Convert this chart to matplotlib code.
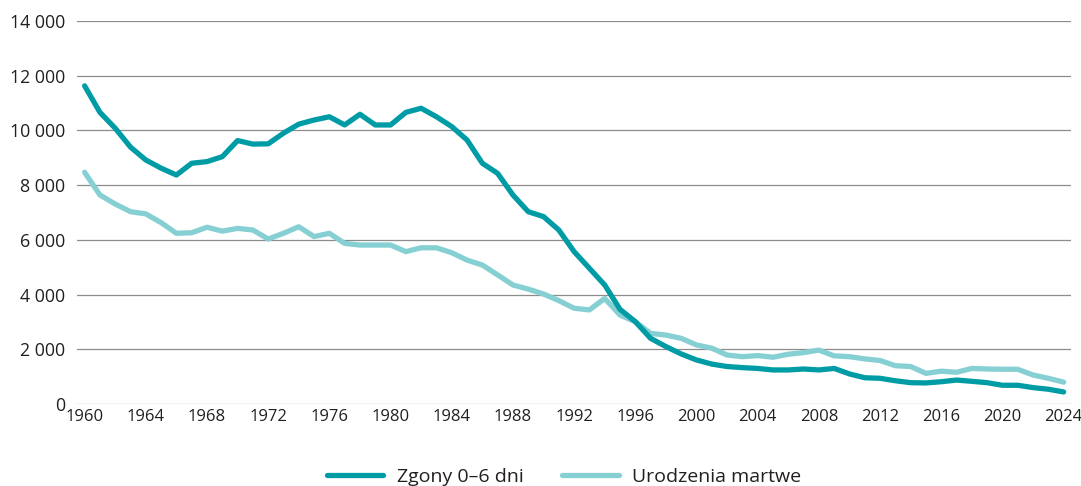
import matplotlib
matplotlib.use("Agg")
import matplotlib.pyplot as plt
from matplotlib.ticker import FuncFormatter

# lata 1960-2024
years = list(range(1960, 2025))

# Zgony 0-6 dni
zgony = [11630, 10660, 10080, 9390, 8920, 8620, 8370, 8800, 8860, 9040,
         9630, 9500, 9510, 9900, 10230, 10380, 10500, 10200, 10590, 10200,
         10200, 10660, 10810, 10500, 10140, 9650, 8800, 8430, 7640, 7030,
         6850, 6360, 5570, 4960, 4350, 3460, 3010, 2400, 2100, 1830,
         1610, 1460, 1370, 1330, 1300, 1245, 1245, 1280, 1245, 1300,
         1100, 960, 940, 850, 780, 770, 815, 875, 830, 780,
         685, 685, 600, 540, 440]

# Urodzenia martwe
martwe = [8470, 7640, 7310, 7030, 6950, 6630, 6240, 6260, 6460, 6320,
          6420, 6360, 6030, 6240, 6480, 6120, 6240, 5870, 5810, 5810,
          5810, 5570, 5710, 5710, 5530, 5260, 5080, 4720, 4350, 4200,
          4020, 3780, 3500, 3440, 3860, 3250, 3010, 2580, 2520, 2400,
          2160, 2040, 1790, 1730, 1770, 1710, 1820, 1880, 1970, 1760,
          1730, 1650, 1590, 1400, 1370, 1120, 1200, 1160, 1300, 1280,
          1270, 1270, 1060, 940, 800]

dark = "#009ca5"
light = "#86d0d4"
grid_col = "#8c8c8c"
txt_col = "#231f20"

plt.rcParams["font.family"] = ["Open Sans", "DejaVu Sans"]

fig = plt.figure(figsize=(10.81, 4.86), dpi=100)
ax = fig.add_axes([0.0712, 0.1687, 0.9198, 0.7881])

ax.plot(years, zgony, color=dark, lw=3.8, solid_joinstyle="round",
        solid_capstyle="round", label="Zgony 0–6 dni", zorder=3)
ax.plot(years, martwe, color=light, lw=3.8, solid_joinstyle="round",
        solid_capstyle="round", label="Urodzenia martwe", zorder=2)

ax.set_xlim(1959.5, 2024.5)
ax.set_ylim(0, 14000)
ax.set_xticks(range(1960, 2025, 4))
ax.set_yticks(range(0, 14001, 2000))
ax.yaxis.set_major_formatter(FuncFormatter(lambda v, p: f"{int(v):,}".replace(",", " ")))

ax.grid(axis="y", color=grid_col, lw=0.9)
ax.set_axisbelow(True)
for s in ax.spines.values():
    s.set_visible(False)
ax.tick_params(axis="both", length=0, colors=txt_col)
ax.tick_params(axis="y", pad=8.5, labelsize=12.8)
ax.tick_params(axis="x", pad=3.5, labelsize=12.0)

leg = fig.legend(loc="center", bbox_to_anchor=(564 / 1081, 1 - 477 / 486), ncol=2,
                 frameon=False, fontsize=14, handlelength=2.9,
                 handletextpad=0.7, columnspacing=2.0)
for t in leg.get_texts():
    t.set_color(txt_col)
for h in leg.get_lines():
    h.set_solid_capstyle("round")

fig.savefig("out.png", dpi=100)
